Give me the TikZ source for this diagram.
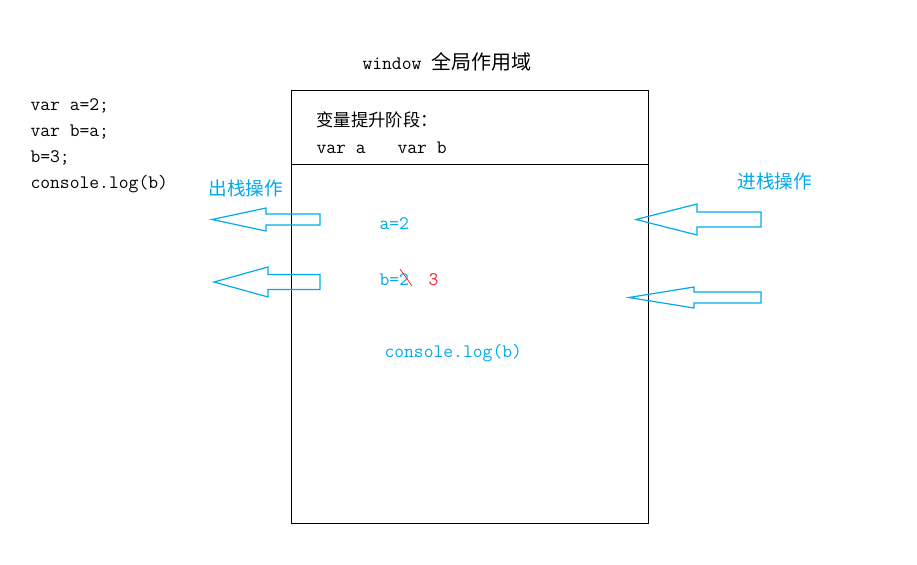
\documentclass[tikz,border=0pt]{standalone}
\usepackage{fontspec}
\newfontfamily\cjk{Noto Sans CJK SC}
\definecolor{stackblue}{RGB}{0,170,235}
\definecolor{stackred}{RGB}{240,40,50}
% block arrow pointing left: tip x, centre y, head x, end x, head half, shaft half
\newcommand{\stackarrow}[6]{%
  \draw[stackblue, line width=0.9pt, line join=miter]
    (#1,#2) -- (#3,#2-#5) -- (#3,#2-#6) -- (#4,#2-#6)
    -- (#4,#2+#6) -- (#3,#2+#6) -- (#3,#2+#5) -- cycle;
}

\begin{document}
\begin{tikzpicture}[x=0.75pt, y=-0.75pt, line width=0.75pt,
  code/.style={font=\fontsize{14.3}{16}\ttfamily, inner sep=0pt, anchor=base west},
  hanzi/.style={font=\fontsize{13}{15}\cjk, inner sep=0pt, anchor=west},
  oplabel/.style={font=\fontsize{14}{16}\cjk, text=stackblue, inner sep=0pt, anchor=west}]
  \useasboundingbox (0,0) rectangle (917,564);
  % ---------------------------------------------------------------- the global scope
  \node[code] (scopeTitle) at (362,69) {window \cjk\fontsize{15}{17}\selectfont 全局作用域};
  \draw (291,90) rectangle (648,523);
  \draw (291,164) -- (648,164);
  \node[hanzi] (hoist) at (316,120) {变量提升阶段：};
  \node[code] (varA) at (316,153) {var a};
  \node[code] (varB) at (397,153) {var b};
  % ---------------------------------------------------------------- source lines
  \node[code] (line1) at (30,110) {var a=2;};
  \node[code] (line2) at (30,136) {var b=a;};
  \node[code] (line3) at (30,162) {b=3;};
  \node[code] (line4) at (30,188) {console.log(b)};
  % ---------------------------------------------------------------- stack contents
  \node[code, text=stackblue] (assignA) at (379,229) {a=2};
  \node[code, text=stackblue] (assignB) at (379,285) {b=2};
  \draw[stackred, line width=0.6pt] (400,269) -- (412,286);
  \node[code, text=stackred] (newB) at (428,285) {3};
  \node[code, text=stackblue] (logB) at (384,357) {console.log(b)};
  % ---------------------------------------------------------------- push and pop
  \node[oplabel] (popLabel) at (208,188) {出栈操作};
  \node[oplabel] (pushLabel) at (737,181) {进栈操作};
  \stackarrow{212}{219.5}{266}{320}{11.5}{5.5}
  \stackarrow{214}{282}{268}{320}{15}{7.5}
  \stackarrow{636}{219.5}{697}{761}{15.5}{7.5}
  \stackarrow{629}{297.5}{694}{761}{10.5}{5.5}
\end{tikzpicture}
\end{document}
